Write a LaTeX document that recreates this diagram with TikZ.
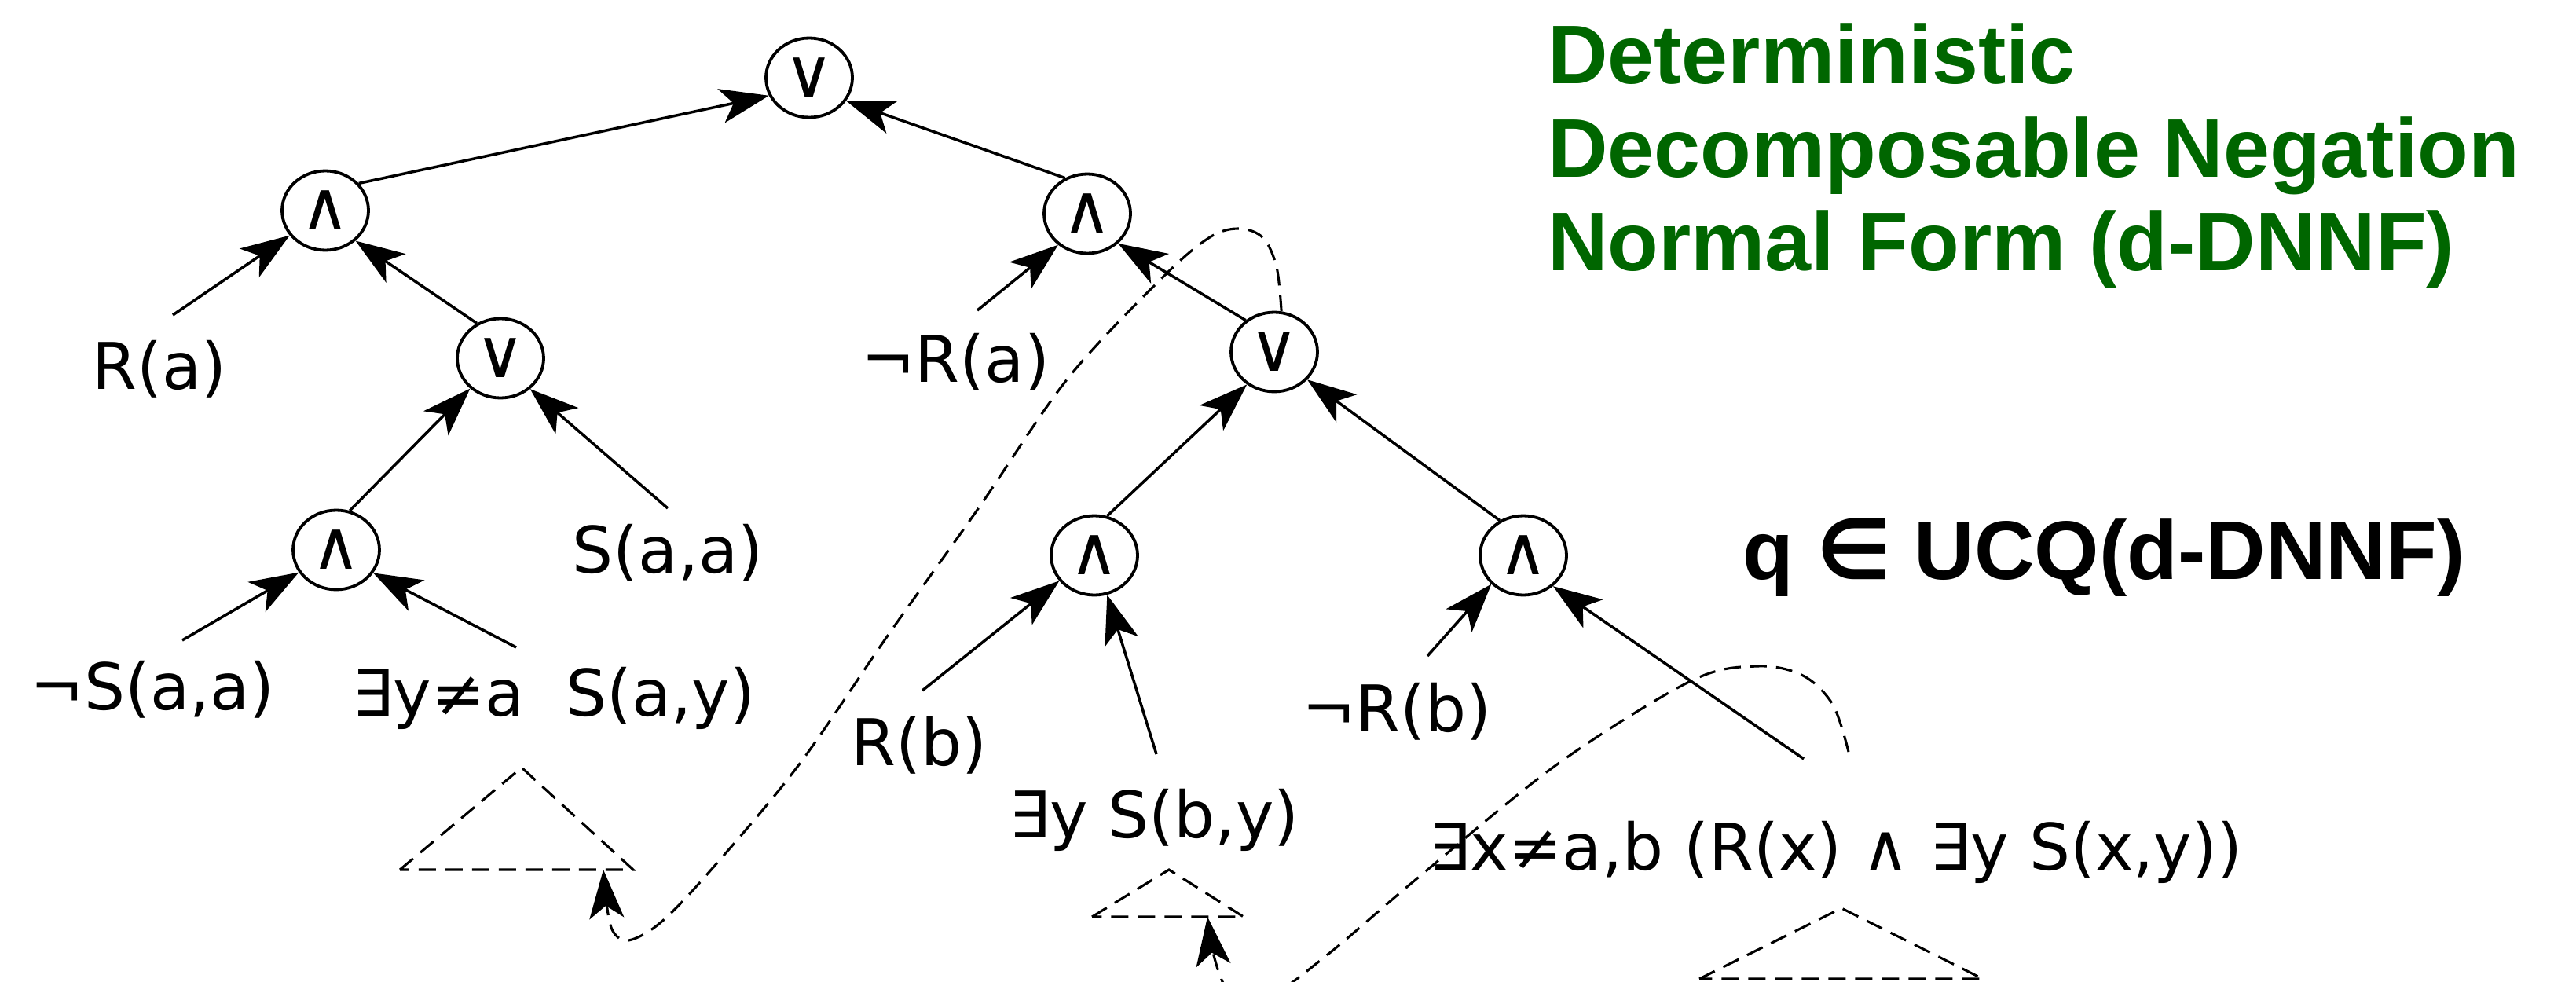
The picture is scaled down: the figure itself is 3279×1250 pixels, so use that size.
\documentclass[tikz,border=0pt]{standalone}
\usepackage{fontspec}
\setmainfont{DejaVu Sans}
\newfontfamily\titlefont{Liberation Sans}
\newfontfamily\dejafont{DejaVu Sans}
\usetikzlibrary{arrows.meta,shapes.geometric}
\definecolor{titlegreen}{RGB}{0,102,0}
\begin{document}
\begin{tikzpicture}[x=1pt,y=-1pt,
  gate/.style={draw, ellipse, line width=3.8pt, minimum width=110pt, minimum height=101pt, inner sep=0pt, font=\fontsize{86}{86}\selectfont},
  lbl/.style={anchor=base, inner sep=0pt, font=\fontsize{82}{94}\selectfont},
  tip/.style={-{Stealth[length=62pt,width=44pt,inset=16pt]}},
  edge/.style={line width=3.5pt, tip},
  dashline/.style={line width=3.1pt, dash pattern=on 21pt off 12pt, tip},
  tri/.style={line width=3.1pt, dash pattern=on 22pt off 12pt},
  ttl/.style={anchor=base west, inner sep=0pt, text=titlegreen, font=\titlefont\bfseries\fontsize{106}{120}\selectfont}
]
\useasboundingbox (0,0) rectangle (3279,1250);
\clip (0,0) rectangle (3279,1250);

% gates
\node[gate] (R0) at (1030,99) {∨};
\node[gate] (A1) at (414,268) {∧};
\node[gate] (A2) at (1384,272) {∧};
\node[gate] (O1) at (637,456) {∨};
\node[gate] (O2) at (1622,448) {∨};
\node[gate] (A3) at (428,700) {∧};
\node[gate] (A4) at (1393,707) {∧};
\node[gate] (A5) at (1939,707) {∧};

% leaf labels
\node[lbl] (Ra) at (203,495) {R(a)};
\node[lbl] (nRa) at (1216,486) {¬R(a)};
\node[lbl] (Saa) at (850,729) {S(a,a)};
\node[lbl] (nSaa) at (194,903) {¬S(a,a)};
\node[lbl] (ESay) at (705,911) {∃y≠a\ \ S(a,y)};
\node[lbl] (Rb) at (1170,974) {R(b)};
\node[lbl] (ESby) at (1469,1066) {∃y S(b,y)};
\node[lbl] (nRb) at (1778,931) {¬R(b)};
\node[lbl] (Ex) at (2337,1107) {∃x≠a,b (R(x) ∧ ∃y S(x,y))};

% connector free ends above the labels
\coordinate (cRa) at (220,401);
\coordinate (cnRa) at (1244,395);
\coordinate (cSaa) at (850,647);
\coordinate (cnSaa) at (232,815);
\coordinate (cESay) at (657,824);
\coordinate (cRb) at (1174,879);
\coordinate (cESby) at (1472,960);
\coordinate (cnRb) at (1817,835);
\coordinate (cEx) at (2296,966);
\coordinate (cEx2) at (2353,957);

% solid edges
\draw[edge] (A1.39) -- (R0.204);
\draw[edge] (A2.122) -- (R0.328);
\draw[edge] (cRa) -- (A1.215);
\draw[edge] (O1.124) -- (A1.315);
\draw[edge] (cnRa) -- (A2.227);
\draw[edge] (O2.132) -- (A2.316);
\draw[edge] (A3.71) -- (O1.225);
\draw[edge] (cSaa) -- (O1.314);
\draw[edge] (cnSaa) -- (A3.211);
\draw[edge] (cESay) -- (A3.328);
\draw[edge] (A4.72) -- (O2.230);
\draw[edge] (A5.124) -- (O2.320);
\draw[edge] (cRb) -- (A4.216);
\draw[edge] (cESby) -- (A4.288);
\draw[edge] (cnRb) -- (A5.222);
\draw[edge] (cEx) -- (A5.314);

% dashed triangles
\coordinate (t1a) at (664,977);
\coordinate (t1l) at (509,1107);
\coordinate (t1r) at (806,1107);
\coordinate (t1tip) at (768,1107);
\coordinate (t2a) at (1488,1107);
\coordinate (t2l) at (1390,1167);
\coordinate (t2r) at (1583,1167);
\coordinate (t2tip) at (1537,1167);
\coordinate (t3a) at (2344,1156);
\coordinate (t3l) at (2163,1246);
\coordinate (t3r) at (2524,1246);
\draw[tri] (t1l) -- (t1a) -- (t1r) -- cycle;
\draw[tri] (t2l) -- (t2a) -- (t2r) -- cycle;
\draw[tri] (t3l) -- (t3a) -- (t3r) -- cycle;

% dashed back-references
\draw[dashline] plot[smooth, tension=0.55] coordinates {(O2.80) (1625,340) (1608,303) (1578,291) (1540,302) (1480,353) (1359,482) (1244,649) (1130,809) (1015,976) (900,1113) (840,1175) (800,1197) (780,1185) (772,1150) (t1tip)};
\draw[dashline] plot[smooth, tension=0.55] coordinates {(cEx2) (2333,897) (2295,860) (2237,848) (2152,867) (1982,973) (1804,1118) (1690,1215) (1610,1272) (1565,1262) (1546,1220) (t2tip)};

% titles
\node[ttl] (T1) at (1970,106) {Deterministic};
\node[ttl] (T2) at (1970,225) {Decomposable Negation};
\node[ttl] (T3) at (1970,344) {Normal Form (d-DNNF)};
\node[anchor=base west, inner sep=0pt, font=\titlefont\bfseries\fontsize{106}{120}\selectfont] (Q) at (2218,737) {q {\dejafont\bfseries ∈} UCQ(d-DNNF)};
\end{tikzpicture}
\end{document}
